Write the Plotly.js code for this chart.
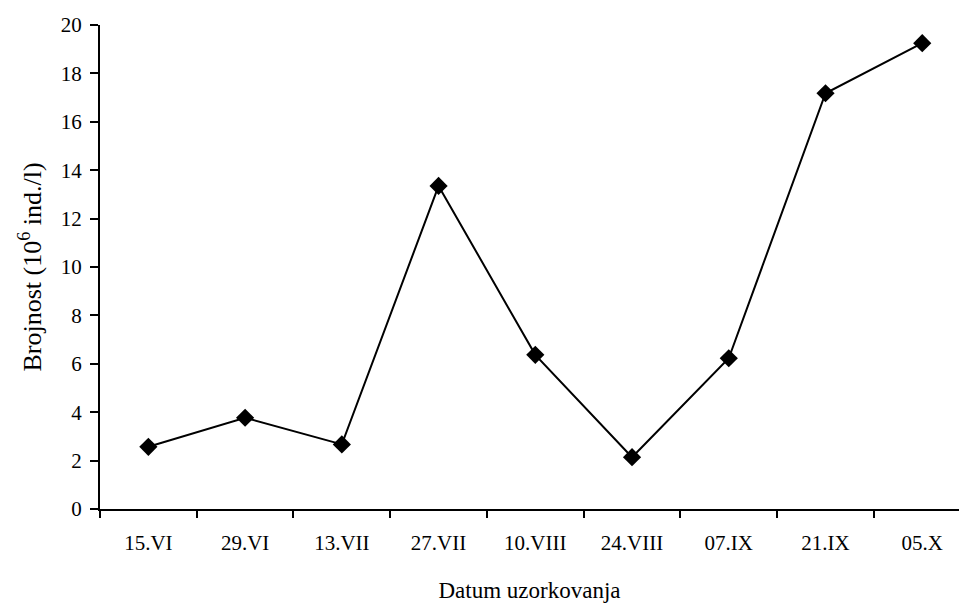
<!DOCTYPE html>
<html>
<head>
<meta charset="utf-8">
<script src="https://cdn.plot.ly/plotly-3.0.1.min.js"></script>
<style>html,body{margin:0;padding:0;background:#fff;}#chart{width:959px;height:606px;}</style>
</head>
<body>
<div id="chart"></div>
<script>
const categories = ["15.VI", "29.VI", "13.VII", "27.VII", "10.VIII", "24.VIII", "07.IX", "21.IX", "05.X"];
const values = [2.57, 3.77, 2.67, 13.35, 6.37, 2.14, 6.23, 17.18, 19.25];
const yTicks = [0, 2, 4, 6, 8, 10, 12, 14, 16, 18, 20];

function f(size) {
  return {family: "Liberation Serif, Times New Roman, serif", size: size, color: "#000000"};
}

Plotly.newPlot("chart", [{
  type: "scatter",
  mode: "lines+markers",
  x: categories,
  y: values,
  line: {color: "#000", width: 2},
  marker: {symbol: "diamond", size: 14, color: "#000"},
  cliponaxis: false
}], {
  width: 959,
  height: 606,
  margin: {l: 100, r: 0, t: 25, b: 97},
  paper_bgcolor: "#fff",
  plot_bgcolor: "#fff",
  font: f(21),
  showlegend: false,
  xaxis: {
    type: "category",
    range: [-0.5, 8.38],
    tickson: "boundaries",
    ticks: "outside",
    ticklen: 7,
    tickwidth: 2,
    tickcolor: "#000",
    showline: true,
    linecolor: "#000",
    linewidth: 2,
    showgrid: false,
    zeroline: false,
    tickfont: f(21),
    ticklabelstandoff: 14,
    title: {text: "Datum uzorkovanja", font: f(23), standoff: 28}
  },
  yaxis: {
    range: [0, 20],
    tickvals: yTicks,
    ticktext: yTicks.map(String),
    ticks: "outside",
    ticklen: 8,
    tickwidth: 2,
    tickcolor: "#000",
    showline: true,
    linecolor: "#000",
    linewidth: 2,
    showgrid: false,
    zeroline: false,
    tickfont: f(21),
    ticklabelstandoff: 4,
    title: {text: "Brojnost (10<sup>6</sup> ind./l)", font: f(26), standoff: 12}
  }
}, {displayModeBar: false, staticPlot: true});
</script>
</body>
</html>
